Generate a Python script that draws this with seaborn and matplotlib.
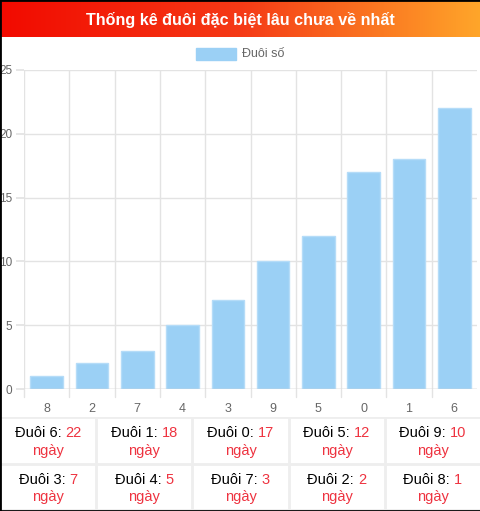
import numpy as np
import pandas as pd
import matplotlib
matplotlib.use("Agg")
import matplotlib.pyplot as plt
import seaborn as sns
from matplotlib.colors import LinearSegmentedColormap
from matplotlib.patches import Rectangle

# dữ liệu: số ngày chưa về của mỗi đuôi
duoi = ["8", "2", "7", "4", "3", "9", "5", "0", "1", "6"]
so_ngay = [1, 2, 3, 5, 7, 10, 12, 17, 18, 22]
y_ticks = [0, 5, 10, 15, 20, 25]

TITLE = "Thống kê đuôi đặc biệt lâu chưa về nhất"
LEGEND = "Đuôi số"

W, H = 481, 511
BAR = "#9BD0F5"
RED = "#ee3340"
GRID = "#e3e3e3"

sns.set_theme(style="white")
plt.rcParams["font.family"] = ["Liberation Sans", "DejaVu Sans"]

fig = plt.figure(figsize=(W / 100, H / 100), dpi=100)

def px_axes(x0, y0, x1, y1):
    # toạ độ pixel (gốc trên-trái) -> toạ độ figure
    return fig.add_axes([x0 / W, 1 - y1 / H, (x1 - x0) / W, (y1 - y0) / H])

# ---- thanh tiêu đề gradient ----
ax_t = px_axes(0, 0, W, 37)
cmap = LinearSegmentedColormap.from_list("hdr", ["#f20a00", "#f53a16", "#ffa62a"])
ax_t.imshow(np.linspace(0, 1, 256)[None, :], aspect="auto", cmap=cmap, extent=[0, 1, 0, 1])
ax_t.text(0.5, 0.47, TITLE, color="white", fontsize=11.6, fontweight="bold",
          ha="center", va="center", transform=ax_t.transAxes)
ax_t.set_axis_off()

# ---- biểu đồ cột ----
ax = px_axes(24, 70, 477, 389)
df = pd.DataFrame({"duoi": duoi, "ngay": so_ngay})
sns.barplot(data=df, x="duoi", y="ngay", order=duoi, color=BAR, saturation=1,
            width=0.72, edgecolor="#b5dcf8", linewidth=1, ax=ax, zorder=3)
ax.set_ylim(0, 25)
ax.set_xlim(-0.5, len(duoi) - 0.5)
ax.set_yticks(y_ticks)
ax.set_xlabel("")
ax.set_ylabel("")
for x in np.arange(-0.5, len(duoi) - 0.5, 1.0):
    ax.axvline(x, color=GRID, lw=1, zorder=0)
for y in y_ticks:
    ax.axhline(y, color=GRID, lw=1, zorder=0)
for s in ax.spines.values():
    s.set_visible(False)
ax.axhline(0, color="#d0d0d0", lw=1, zorder=4)
ax.tick_params(axis="y", length=5.8, color=GRID, labelcolor="#666666", labelsize=8.5, pad=2.5)
ax.tick_params(axis="x", length=0, labelcolor="#666666", labelsize=9, pad=10)
ax.tick_params(left=True, bottom=False)
# vạch nhỏ ở biên các cột dưới trục x
for x in np.arange(-0.5, len(duoi) - 0.5, 1.0):
    ax.plot([x, x], [0, -0.6], color=GRID, lw=1, clip_on=False)

# chú giải
fig.patches.append(Rectangle((196 / W, 1 - 60 / H), 40 / W, 12 / H,
                             transform=fig.transFigure, color=BAR, figure=fig))
fig.text(242 / W, 1 - 54 / H, LEGEND, color="#666666", fontsize=9, va="center")

# ---- bảng thống kê ----
ax_b = px_axes(0, 417, W, 510)
ax_b.set_xlim(0, W)
ax_b.set_ylim(93, 0)
ax_b.set_axis_off()
cw = W / 5
rh = 46.5
for c in range(1, 5):
    ax_b.axvline(c * cw, color="#eeeeee", lw=2)
for y in (0, rh, 2 * rh):
    ax_b.axhline(y, color="#eeeeee", lw=2)

order = sorted(zip(duoi, so_ngay), key=lambda t: -t[1])
fig.canvas.draw()
inv = ax_b.transData.inverted()
for i, (d, n) in enumerate(order):
    r, c = divmod(i, 5)
    cx = c * cw + cw / 2
    cy = r * rh + 16
    t1 = f"Đuôi {d}: "
    t2 = f"{n}"
    # đo độ rộng để canh giữa cả dòng hai màu
    full = ax_b.text(cx, cy, t1 + t2, fontsize=10.5, ha="center", va="center", alpha=0)
    bb = full.get_window_extent(renderer=fig.canvas.get_renderer())
    x_left = inv.transform((bb.x0, bb.y0))[0]
    a = ax_b.text(x_left, cy, t1, color="black", fontsize=10.5, ha="left", va="center")
    bb2 = a.get_window_extent(renderer=fig.canvas.get_renderer())
    x_mid = inv.transform((bb2.x1, bb2.y0))[0]
    ax_b.text(x_mid, cy, t2, color=RED, fontsize=10.5, ha="left", va="center")
    ax_b.text(cx, cy + 18, "ngày", color=RED, fontsize=10.5, ha="center", va="center")

# viền đen quanh ảnh
fig.patches.append(Rectangle((0, 0), 1, 1, transform=fig.transFigure, fill=False,
                             edgecolor="black", lw=2, figure=fig))

fig.savefig("out.png", dpi=100)
